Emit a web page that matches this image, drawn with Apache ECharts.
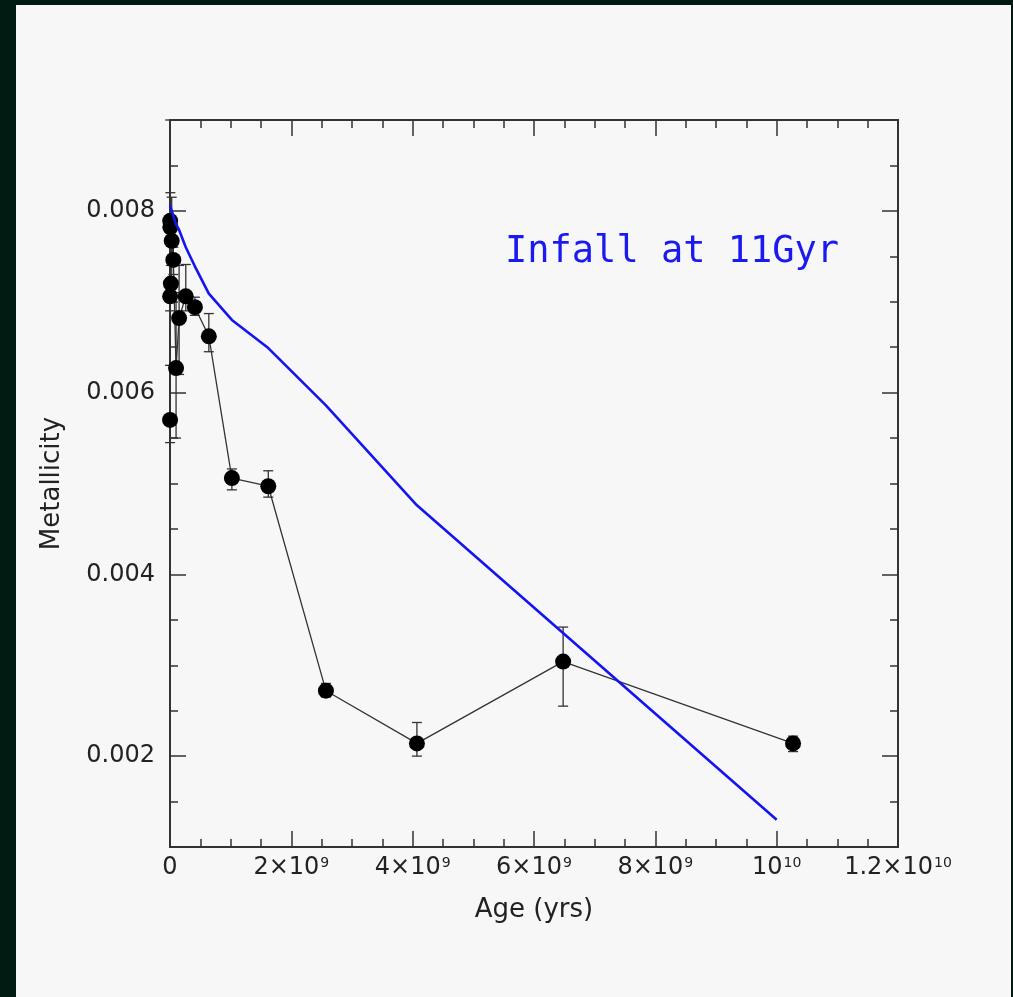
<!DOCTYPE html>
<html><head><meta charset="utf-8">
<script src="https://cdn.jsdelivr.net/npm/echarts@6/dist/echarts.min.js"></script>
<style>html,body{margin:0;padding:0;background:#f7f7f7;overflow:hidden}#c{width:1013px;height:997px;}</style>
</head><body><div id="c"></div>
<script>
// observed data (age in years, metallicity)
const ages        = [1e6, 2e6, 3e6, 6e6, 1.5e7, 2.8e7, 5.5e7, 1.0e8, 1.5e8, 2.6e8, 4.1e8, 6.4e8, 1.02e9, 1.62e9, 2.57e9, 4.07e9, 6.48e9, 1.027e10];
const metallicity = [0.00570, 0.00706, 0.00789, 0.00782, 0.00720, 0.00767, 0.00746, 0.00627, 0.00682, 0.00706, 0.00694, 0.00662, 0.00506, 0.00497, 0.00272, 0.00214, 0.00304, 0.00214];
const errLow      = [0.00545, 0.00690, 0.00770, 0.00765, 0.00700, 0.00750, 0.00730, 0.00550, 0.00620, 0.00690, 0.00685, 0.00645, 0.00493, 0.00485, 0.00265, 0.00200, 0.00255, 0.00205];
const errHigh     = [0.00630, 0.00720, 0.00900, 0.00820, 0.00740, 0.00815, 0.00760, 0.00710, 0.00740, 0.00741, 0.00705, 0.00687, 0.00516, 0.00514, 0.00280, 0.00237, 0.00342, 0.00222];
// model curve (infall at 11 Gyr)
const modelAges = [0, 1.0e8, 1.5e8, 2.6e8, 4.1e8, 6.4e8, 1.02e9, 1.62e9, 2.57e9, 4.07e9, 1.0e10];
const modelZ    = [0.00806, 0.00785, 0.00779, 0.00760, 0.00739, 0.00709, 0.00680, 0.00649, 0.00586, 0.00476, 0.00130];
// ticks
const xTickValues = [0, 2e9, 4e9, 6e9, 8e9, 1e10, 1.2e10];
const xLabelBase  = ['0', '2×10', '4×10', '6×10', '8×10', '10', '1.2×10'];
const xLabelExp   = ['', '9', '9', '9', '9', '10', '10'];
const yTickValues = [0.002, 0.004, 0.006, 0.008];
const yTickLabels = ['0.002', '0.004', '0.006', '0.008'];

const xMinor = []; for (let i = 0; i <= 24; i++) xMinor.push(i * 5e8);
const yMinor = []; for (let i = 2; i <= 18; i++) yMinor.push(i * 0.0005);

const XMIN = 0, XMAX = 1.2e10, YMIN = 0.001, YMAX = 0.009;
const tickStyle = {color: '#333', width: 1.5};
const labelFont = {fontFamily: 'DejaVu Sans', color: '#222'};

function xAx(position, major, withLabels) {
  return {
    type: 'value', min: XMIN, max: XMAX, position: position,
    axisLine: {show: false, onZero: false},
    splitLine: {show: false},
    axisTick: {show: true, inside: true, length: major ? 16 : 8,
      customValues: major ? xTickValues : xMinor, lineStyle: tickStyle},
    axisLabel: withLabels ? {
      show: true, customValues: xTickValues, margin: 9,
      formatter: function (v) {
        const i = xTickValues.findIndex(t => Math.abs(t - v) < 1);
        if (i < 0) return '';
        return '{b|' + xLabelBase[i] + '}' + (xLabelExp[i] ? '{s|' + xLabelExp[i] + '}' : '');
      },
      rich: {
        b: {fontSize: 24, fontFamily: 'DejaVu Sans', color: '#222'},
        s: {fontSize: 14, fontFamily: 'DejaVu Sans', color: '#222', verticalAlign: 'top', padding: [0, 0, 0, 1]}
      }
    } : {show: false},
    name: withLabels ? 'Age (yrs)' : '',
    nameLocation: 'middle', nameGap: 50,
    nameTextStyle: Object.assign({fontSize: 26}, labelFont)
  };
}
function yAx(position, major, withLabels) {
  return {
    type: 'value', min: YMIN, max: YMAX, position: position,
    axisLine: {show: false, onZero: false},
    splitLine: {show: false},
    axisTick: {show: true, inside: true, length: major ? 16 : 8,
      customValues: major ? yTickValues : yMinor, lineStyle: tickStyle},
    axisLabel: withLabels ? Object.assign({
      show: true, customValues: yTickValues, margin: 15, fontSize: 24,
      formatter: function (v) {
        const i = yTickValues.findIndex(t => Math.abs(t - v) < 1e-9);
        return i < 0 ? '' : yTickLabels[i];
      }
    }, labelFont) : {show: false},
    name: withLabels ? 'Metallicity' : '',
    nameLocation: 'middle', nameGap: 105, nameRotate: 90,
    nameTextStyle: Object.assign({fontSize: 26}, labelFont)
  };
}

const chart = echarts.init(document.getElementById('c'), null, {renderer: 'canvas'});
chart.setOption({
  animation: false,
  backgroundColor: '#f7f7f7',
  grid: {left: 170, top: 120, width: 728, height: 727, show: true,
    borderColor: '#333', borderWidth: 2, backgroundColor: 'transparent', containLabel: false},
  xAxis: [xAx('bottom', true, true), xAx('bottom', false, false), xAx('top', true, false), xAx('top', false, false)],
  yAxis: [yAx('left', true, true), yAx('left', false, false), yAx('right', true, false), yAx('right', false, false)],
  graphic: [
    {type: 'rect', shape: {x: 0, y: 0, width: 16, height: 997}, style: {fill: '#011a12'}, z: 100},
    {type: 'rect', shape: {x: 0, y: 0, width: 1013, height: 5}, style: {fill: '#011a12'}, z: 100},
    {type: 'rect', shape: {x: 1011, y: 0, width: 2, height: 997}, style: {fill: '#011a12'}, z: 100},
    {type: 'text', x: 505, y: 252, z: 100,
      style: {text: 'Infall at 11Gyr', fontSize: 37, fontFamily: 'DejaVu Sans Mono',
        fill: '#1a1aee', align: 'left', verticalAlign: 'middle'}}
  ],
  series: [
    {
      type: 'custom', xAxisIndex: 0, yAxisIndex: 0, z: 2,
      data: ages.map((a, i) => [a, errLow[i], errHigh[i]]),
      encode: {x: 0, y: [1, 2]},
      renderItem: function (params, api) {
        const x = api.value(0);
        const lo = api.coord([x, api.value(1)]);
        const hi = api.coord([x, api.value(2)]);
        const w = 5;
        const st = {stroke: '#333', lineWidth: 1.3};
        return {type: 'group', children: [
          {type: 'line', shape: {x1: lo[0], y1: lo[1], x2: hi[0], y2: hi[1]}, style: st},
          {type: 'line', shape: {x1: lo[0] - w, y1: lo[1], x2: lo[0] + w, y2: lo[1]}, style: st},
          {type: 'line', shape: {x1: hi[0] - w, y1: hi[1], x2: hi[0] + w, y2: hi[1]}, style: st}
        ]};
      }
    },
    {
      type: 'line', xAxisIndex: 0, yAxisIndex: 0, z: 3,
      data: ages.map((a, i) => [a, metallicity[i]]),
      symbol: 'circle', symbolSize: 16,
      itemStyle: {color: '#000'},
      lineStyle: {color: '#333', width: 1.3},
      emphasis: {disabled: true}
    },
    {
      type: 'line', xAxisIndex: 0, yAxisIndex: 0, z: 4,
      data: modelAges.map((a, i) => [a, modelZ[i]]),
      symbol: 'none',
      lineStyle: {color: '#1414f0', width: 2.6},
      emphasis: {disabled: true}
    }
  ]
});
</script>
</body></html>
